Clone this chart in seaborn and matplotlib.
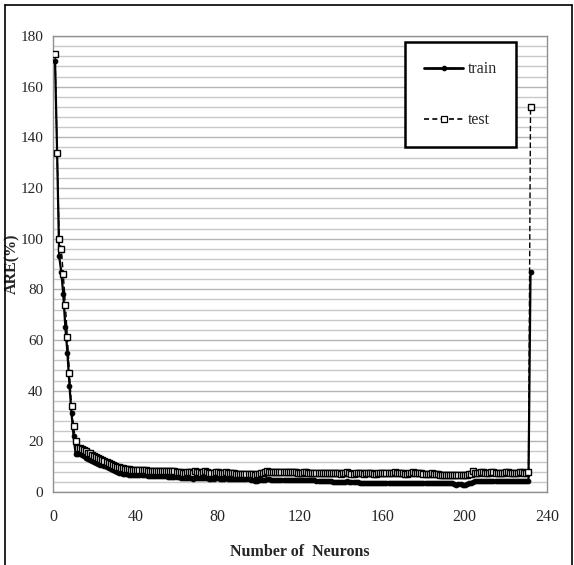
import numpy as np
import pandas as pd
import matplotlib
matplotlib.use("Agg")
import matplotlib.pyplot as plt
from matplotlib.lines import Line2D
from matplotlib.ticker import MultipleLocator
import seaborn as sns

neurons = list(range(1, 233))

test_are = [
    173, 134, 100, 96, 86, 74, 61, 47, 34, 26, 20,
    17.5, 17.2, 16.8, 16.5, 16.0, 15.5, 15.2, 14.8, 14.3, 14.0,
    13.5, 13.0, 12.6, 12.2, 11.8, 11.3, 11.0, 10.6, 10.3, 10.0,
    9.7, 9.5, 9.3, 9.1, 9.0, 8.9, 8.8, 8.8, 8.7, 8.7,
    8.6, 8.6, 8.5, 8.5, 8.4, 8.4, 8.4, 8.3, 8.3, 8.3,
    8.2, 8.2, 8.2, 8.2, 8.1, 8.1, 8.1, 8.1, 8.0, 8.0,
    7.8, 7.6, 7.5, 7.8, 7.9, 7.7, 7.6, 8.2, 7.9, 7.7,
    7.6, 7.9, 8.3, 7.8, 7.6, 7.5, 7.5, 7.7, 7.8, 7.6,
    7.5, 7.5, 7.8, 7.6, 7.4, 7.4, 7.4, 7.3, 7.3, 7.3,
    7.3, 7.2, 7.2, 7.1, 7.0, 7.0, 6.9, 7.0, 7.2, 7.4,
    7.6, 7.9, 8.1, 8.0, 7.9, 7.9, 7.9, 7.9, 7.8, 7.8,
    7.8, 7.8, 7.8, 7.9, 7.9, 7.8, 7.8, 7.6, 7.5, 7.5,
    7.8, 8.0, 7.6, 7.5, 7.5, 7.5, 7.5, 7.5, 7.5, 7.5,
    7.4, 7.4, 7.4, 7.5, 7.5, 7.4, 7.4, 7.4, 7.3, 7.4,
    7.6, 7.8, 7.4, 7.3, 7.3, 7.4, 7.6, 7.4, 7.4, 7.3,
    7.4, 7.4, 7.4, 7.4, 7.3, 7.3, 7.5, 7.4, 7.4, 7.4,
    7.4, 7.4, 7.4, 7.6, 7.7, 7.4, 7.4, 7.4, 7.4, 7.3,
    7.3, 7.4, 7.4, 7.8, 7.5, 7.4, 7.4, 7.4, 7.3, 7.3,
    7.3, 7.3, 7.4, 7.3, 7.3, 7.2, 6.8, 6.7, 6.7, 6.7,
    6.7, 6.6, 6.6, 6.7, 6.7, 6.7, 6.6, 6.6, 6.7, 6.8,
    7.0, 7.2, 8.4, 7.6, 7.4, 7.6, 7.7, 7.7, 7.6, 7.6,
    7.6, 7.7, 7.7, 7.6, 7.6, 7.6, 7.6, 7.6, 7.7, 7.7,
    7.6, 7.6, 7.6, 7.6, 7.6, 7.7, 7.7, 7.6, 7.6, 7.7,
    152,
]

train_are = [
    170, 134, 93, 87, 78, 65, 55, 42, 31, 22, 15,
    15.0, 15.2, 14.6, 14.1, 13.6, 13.1, 12.7, 12.3, 11.9, 11.5,
    11.1, 10.8, 10.5, 10.1, 9.7, 9.3, 8.9, 8.5, 8.2, 7.9,
    7.6, 7.4, 7.2, 7.1, 7.0, 6.9, 6.9, 6.8, 6.8, 6.7,
    6.7, 6.6, 6.6, 6.6, 6.5, 6.5, 6.5, 6.4, 6.4, 6.3,
    6.3, 6.3, 6.2, 6.2, 6.1, 6.1, 6.0, 6.0, 5.9, 5.9,
    5.7, 5.5, 5.4, 5.5, 5.6, 5.4, 5.3, 5.6, 5.5, 5.4,
    5.4, 5.5, 5.6, 5.4, 5.3, 5.3, 5.3, 5.4, 5.4, 5.3,
    5.3, 5.3, 5.4, 5.3, 5.2, 5.2, 5.2, 5.2, 5.1, 5.1,
    5.1, 5.1, 5.0, 5.0, 4.9, 4.6, 4.5, 4.5, 4.6, 4.7,
    4.8, 4.9, 5.0, 5.0, 4.9, 4.9, 4.9, 4.9, 4.9, 4.8,
    4.8, 4.8, 4.8, 4.8, 4.8, 4.8, 4.7, 4.7, 4.7, 4.7,
    4.7, 4.8, 4.7, 4.7, 4.6, 4.6, 4.3, 4.2, 4.2, 4.2,
    4.2, 4.2, 4.2, 4.2, 4.1, 4.1, 4.1, 4.1, 4.1, 4.1,
    4.1, 4.2, 4.1, 4.1, 4.0, 4.0, 3.8, 3.7, 3.7, 3.7,
    3.7, 3.7, 3.7, 3.7, 3.7, 3.6, 3.6, 3.6, 3.6, 3.6,
    3.6, 3.6, 3.6, 3.7, 3.7, 3.6, 3.6, 3.6, 3.6, 3.6,
    3.6, 3.6, 3.6, 3.7, 3.6, 3.6, 3.6, 3.6, 3.6, 3.6,
    3.6, 3.6, 3.6, 3.6, 3.6, 3.6, 3.6, 3.5, 3.5, 3.5,
    3.5, 3.5, 3.4, 3.0, 2.8, 3.0, 3.2, 2.8, 2.9, 3.3,
    3.5, 3.6, 3.8, 4.2, 4.3, 4.4, 4.4, 4.4, 4.4, 4.4,
    4.4, 4.4, 4.4, 4.4, 4.4, 4.4, 4.4, 4.4, 4.4, 4.4,
    4.4, 4.4, 4.4, 4.4, 4.4, 4.4, 4.3, 4.3, 4.3, 4.3,
    87,
]

y_ticks = [0, 20, 40, 60, 80, 100, 120, 140, 160, 180]
x_ticks = [0, 40, 80, 120, 160, 200, 240]

sns.set_style("white")
plt.rcParams['font.family'] = ['Liberation Serif', 'DejaVu Serif']

df = pd.DataFrame({"neurons": neurons, "train": train_are, "test": test_are})

W, H = 574, 565
fig = plt.figure(figsize=(W / 100, H / 100), dpi=100)
ax = fig.add_axes([53 / W, 1 - 492 / H, (547 - 53) / W, (492 - 36) / H])

sns.lineplot(data=df, x="neurons", y="train", ax=ax, color="black", lw=1.6,
             marker="o", markersize=3.4, markeredgewidth=0.7,
             markerfacecolor="black", markeredgecolor="black", zorder=3)
sns.lineplot(data=df, x="neurons", y="test", ax=ax, color="black", lw=1.0,
             linestyle=(0, (4, 2)), marker="s", markersize=3.8,
             markeredgewidth=1.0, markerfacecolor="white",
             markeredgecolor="black", zorder=4)

ax.set_xlim(0, 240)
ax.set_ylim(0, 180)
ax.set_xticks(x_ticks)
ax.set_yticks(y_ticks)
ax.yaxis.set_minor_locator(MultipleLocator(4))
ax.grid(True, which="major", axis="y", color="#b4b4b4", lw=1.0)
ax.grid(True, which="minor", axis="y", color="#c8c8c8", lw=1.0)
ax.grid(False, axis="x")
ax.set_axisbelow(True)

for s in ax.spines.values():
    s.set_color("#909090")
    s.set_linewidth(1.0)
    s.set_visible(True)

ax.tick_params(axis="y", which="both", direction="out", length=4,
               color="#909090", width=0.8, labelsize=11, pad=3)
ax.tick_params(axis="x", which="both", length=0, labelsize=11.5, pad=12)

ax.set_xlabel("Number of  Neurons", fontsize=11.5, fontweight="bold", labelpad=14)
ax.set_ylabel("ARE(%)", fontsize=11.5, fontweight="bold")
ax.yaxis.set_label_coords((20 - 53) / 494, 0.5)

handles = [
    Line2D([], [], color="black", lw=2.0, marker="o", markersize=3,
           markerfacecolor="black"),
    Line2D([], [], color="black", lw=1.2, linestyle=(0, (3, 2)), marker="s",
           markersize=4, markerfacecolor="white", markeredgewidth=0.9),
]
leg = ax.legend(handles, ["train", "test"], loc="upper right",
                bbox_to_anchor=((516 - 53) / 494, (492 - 42) / 456),
                frameon=True, fancybox=False, fontsize=11.5,
                handlelength=2.4, handletextpad=0.3, labelspacing=2.2,
                borderpad=1.2, borderaxespad=0)
leg.get_frame().set_edgecolor("black")
leg.get_frame().set_linewidth(1.8)
leg.get_frame().set_facecolor("white")
leg.get_frame().set_alpha(1)

# figure outline
for xs, ys in [((5 / W, 5 / W), (0, 1 - 5 / H)),
               ((5 / W, 572 / W), (1 - 5 / H, 1 - 5 / H)),
               ((572 / W, 572 / W), (1 - 5 / H, 0))]:
    fig.add_artist(Line2D(xs, ys, color="black", lw=1.2,
                          transform=fig.transFigure))

fig.savefig("out.png", dpi=100)
